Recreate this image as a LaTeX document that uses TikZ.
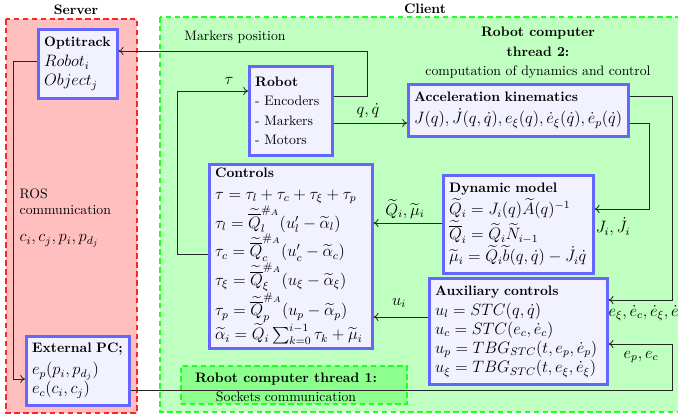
\documentclass[tikz,border=0pt]{standalone}
\usepackage{amsmath,amssymb}
\usetikzlibrary{arrows.meta}
% formulas are set a little larger than the surrounding 10pt text
\DeclareMathSizes{10}{12}{8}{6}
\newcommand\bxfont{\fontsize{10}{13.9}\selectfont\lineskip=1.2pt\relax}

\begin{document}
\begin{tikzpicture}[x=0.7273pt,y=-0.7273pt,
  bx/.style={draw=blue!60, fill=blue!5, line width=2pt, anchor=north west,
    align=left, inner xsep=4.2pt, inner ysep=1pt, font=\bxfont},
  zone/.style={dash pattern=on 4pt off 2.5pt, line width=0.9pt},
  conn/.style={draw=black!85, line width=0.6pt},
  lbl/.style={inner sep=1pt},
  >={To[length=3.5pt,width=6pt]}]

\useasboundingbox (0,0) rectangle (678,417);
\clip (0,0) rectangle (678,417);

% server and client zones
\draw[zone, draw=red!85, fill=red!25] (6,19) rectangle (137,413);
\draw[zone, draw=green!85, fill=green!25] (160,17) rectangle (700,412);
\node[font=\bfseries] (servertitle) at (76,10) {Server};
\node[font=\bfseries] (clienttitle) at (425,8.5) {Client};

% thread 1 (sockets)
\node[zone, draw=green!85, fill=green!45, minimum width=164.4pt, minimum height=27.6pt]
  (thread1) at (294,385) {};
\node[align=center, font=\fontsize{10}{13.8}\selectfont] (thread1txt) at (286,387.5)
  {\textbf{Robot computer thread 1:}\\Sockets communication};

% thread 2 title
\node[align=center, font=\fontsize{10}{14.2}\selectfont] (thread2txt) at (538,53)
  {\textbf{Robot computer}\\\textbf{thread 2:}\\computation of dynamics and control};

% blocks
\node[bx, text width=49pt, minimum height=50.2pt] (opti) at (37,28)
  {\textbf{Optitrack}\\[0.7pt]$Robot_i$\\$Object_j$};
\node[bx, text width=52pt, minimum height=64.7pt] (robot) at (248,65)
  {\textbf{Robot}\\- Encoders\\- Markers\\- Motors};
\node[bx, text width=151.6pt, minimum height=37.8pt] (accel) at (407,83)
  {\textbf{Acceleration kinematics}\\[2pt]$J(q),\dot{J}(q,\dot{q}),e_\xi(q),\dot{e}_\xi(\dot{q}),\dot{e}_p(\dot{q})$};
\node[bx, text width=110.1pt, minimum height=133.8pt] (controls) at (208,163)
  {\textbf{Controls}\\[2pt]
   $\tau=\tau_l+\tau_c+\tau_\xi+\tau_p$\\
   $\tau_l=\widetilde{\overline{Q}}_l^{\#_A}(u'_l-\widetilde{\alpha}_l)$\\
   $\tau_c=\widetilde{\overline{Q}}_c^{\#_A}(u'_c-\widetilde{\alpha}_c)$\\
   $\tau_\xi=\widetilde{\overline{Q}}_\xi^{\#_A}(u_\xi-\widetilde{\alpha}_\xi)$\\
   $\tau_p=\widetilde{\overline{Q}}_p^{\#_A}(u_p-\widetilde{\alpha}_p)$\\
   $\widetilde{\alpha}_i=\widetilde{Q}_i\sum_{k=0}^{i-1}\tau_k+\widetilde{\mu}_i$};
\node[bx, text width=100.7pt, minimum height=71.3pt] (dyn) at (442,174)
  {\textbf{Dynamic model}\\[2pt]
   $\widetilde{Q}_i=J_i(q)\widetilde{A}(q)^{-1}$\\
   $\widetilde{\overline{Q}}_i=\widetilde{Q}_i\widetilde{N}_{i-1}$\\
   $\widetilde{\mu}_i=\widetilde{Q}_i\widetilde{b}(q,\dot{q})-\dot{J}_i\dot{q}$};
\node[bx, text width=121pt, minimum height=77.1pt] (aux) at (428,277)
  {\textbf{Auxiliary controls}\\[0.7pt]
   $u_l=STC(q,\dot{q})$\\
   $u_c=STC(e_c,\dot{e}_c)$\\
   $u_p=TBG_{STC}(t,e_p,\dot{e}_p)$\\
   $u_\xi=TBG_{STC}(t,e_\xi,\dot{e}_\xi)$};
\node[bx, text width=66.5pt, minimum height=50.2pt] (ext) at (25,335)
  {\textbf{External PC;}\\[2pt]$e_p(p_i,p_{d_j})$\\$e_c(c_i,c_j)$};

% connectors
\draw[conn,->] (robot.east |- 0,96) -| (367,51) -- (opti.east |- 0,51);
\node[lbl] (mklbl) at (235,37) {Markers position};

\draw[conn,->] (robot.east |- 0,123) -- (accel.west |- 0,123);
\node[lbl] (qlbl) at (368,111) {$q,\dot{q}$};

\draw[conn,->] (controls.west |- 0,254) -| (177,91) -- (robot.west |- 0,91);
\node[lbl] (taulbl) at (229,81) {$\tau$};

\draw[conn,->] (accel.east |- 0,123) -| (649,209) -- (dyn.east |- 0,209);
\node[lbl] (jlbl) at (613,227) {$J_i,\dot{J}_i$};

\draw[conn,->] (accel.east |- 0,96) -| (672,300) -- (aux.east |- 0,300);
\node[lbl, anchor=west] (elbl) at (607,313) {$e_\xi,\dot{e}_c,\dot{e}_\xi,\dot{e}_p$};

\draw[conn,->] (dyn.west |- 0,223) -- (controls.east |- 0,223);
\node[lbl] (qmlbl) at (405,209) {$\widetilde{Q}_i,\widetilde{\mu}_i$};

\draw[conn,->] (aux.west |- 0,317) -- (controls.east |- 0,317);
\node[lbl] (ulbl) at (399,303) {$u_i$};

\draw[conn,->] (opti.west |- 0,61) -| (13,379) -- (ext.west |- 0,379);
\node[lbl, anchor=north west, align=left] (roslbl) at (18,187) {ROS\\communication};
\node[lbl, anchor=west] (cplbl) at (18,241) {$c_i,c_j,p_i,p_{d_j}$};

\draw[conn,->] (ext.east |- 0,390) -| (672,344) -- (aux.east |- 0,344);
\node[lbl] (eplbl) at (641,357) {$e_p,e_c$};

\end{tikzpicture}
\end{document}
